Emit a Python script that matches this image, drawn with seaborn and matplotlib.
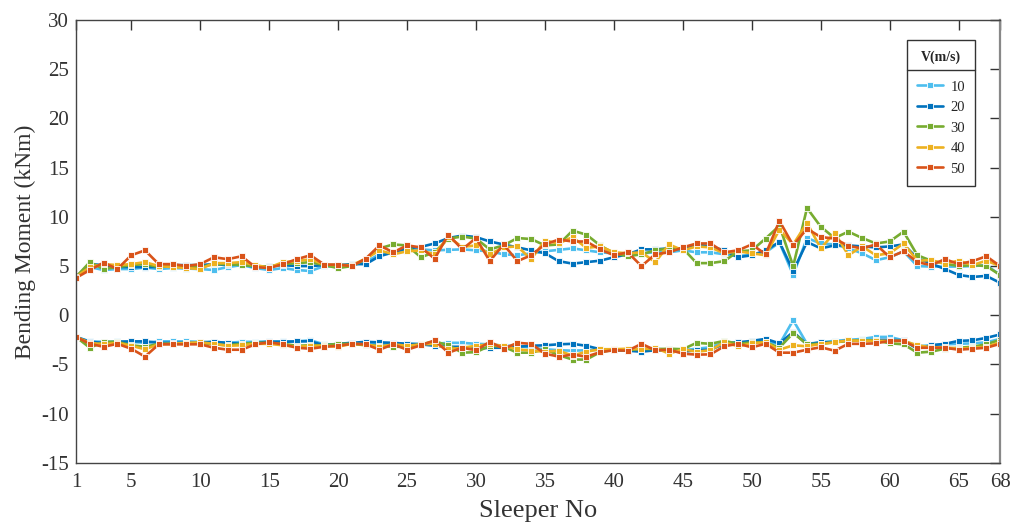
import numpy as np
import pandas as pd
import matplotlib
matplotlib.use("Agg")
import matplotlib.pyplot as plt
import seaborn as sns
from matplotlib.lines import Line2D

# --- Datos ---
sleepers = list(range(1, 69))
speeds = ["10", "20", "30", "40", "50"]
colores = ["#4DBEEE", "#0072BD", "#77AC30", "#EDB120", "#D95319"]

# momento positivo (banda superior)
pos_10 = [3.9, 4.9, 4.6, 4.7, 4.7, 4.85, 4.7, 4.8, 4.75, 4.7, 4.6, 4.9, 5.1, 4.8, 4.6, 4.8, 4.6, 4.5,
          5.0, 4.9, 5.1, 5.4, 6.2, 6.4, 6.6, 6.7, 6.6, 6.65, 6.7, 6.6, 6.5, 6.2, 6.1, 6.3, 6.5,
          6.65, 6.8, 6.6, 6.4, 6.3, 6.3, 6.3, 6.4, 6.4, 6.6, 6.4, 6.4, 6.2, 6.0, 6.2, 6.4, 7.4,
          4.1, 7.85, 7.3, 7.2, 6.8, 6.3, 5.6, 5.9, 6.5, 5.0, 4.95, 4.95, 4.95, 5.0, 5.1, 4.1]
pos_20 = [3.9, 5.2, 5.1, 4.9, 4.9, 4.9, 4.9, 5.1, 5.1, 5.1, 5.2, 5.1, 5.2, 4.9, 5.0, 5.1, 5.0, 5.0,
          5.1, 5.1, 5.2, 5.2, 6.0, 6.4, 6.8, 6.95, 7.3, 7.85, 8.1, 7.95, 7.5, 7.2, 6.9, 6.6, 6.3,
          5.5, 5.25, 5.4, 5.55, 5.9, 6.2, 6.7, 6.7, 6.8, 6.7, 7.2, 7.0, 6.6, 5.9, 6.1, 6.6, 7.45,
          4.5, 7.45, 6.8, 7.1, 7.1, 7.0, 6.9, 7.0, 7.2, 5.8, 5.25, 4.7, 4.1, 3.9, 4.0, 3.3]
pos_30 = [3.9, 5.4, 4.7, 4.9, 5.1, 5.2, 4.9, 5.0, 4.9, 4.9, 5.2, 5.2, 5.1, 5.0, 4.9, 5.2, 5.3, 5.4,
          5.1, 4.8, 5.0, 5.7, 6.8, 7.2, 7.1, 5.9, 6.4, 7.8, 8.0, 7.8, 6.7, 7.1, 7.85, 7.75, 7.1,
          7.2, 8.6, 8.2, 7.1, 6.3, 6.0, 6.2, 6.6, 6.8, 6.8, 5.3, 5.3, 5.5, 6.5, 6.6, 7.8, 9.1,
          5.0, 10.9, 9.0, 7.85, 8.5, 7.85, 7.3, 7.5, 8.5, 6.1, 5.55, 5.25, 5.0, 5.1, 5.0, 4.1]
pos_40 = [3.9, 4.9, 5.2, 5.1, 5.2, 5.4, 5.0, 4.9, 4.8, 4.7, 5.3, 5.3, 5.4, 5.1, 4.85, 5.4, 5.5, 5.7,
          5.15, 5.1, 5.1, 5.75, 6.6, 6.2, 6.5, 6.6, 6.2, 7.95, 6.95, 7.1, 6.2, 6.9, 7.0, 5.7, 7.6,
          7.3, 7.95, 6.85, 7.0, 6.4, 6.3, 6.4, 5.4, 7.2, 6.6, 7.0, 6.9, 6.3, 6.5, 6.3, 6.1, 8.7,
          7.2, 9.4, 6.8, 8.4, 6.1, 7.0, 6.1, 6.3, 7.3, 5.55, 5.6, 5.25, 5.55, 5.1, 5.55, 5.0]
pos_50 = [3.8, 4.6, 5.35, 4.7, 6.1, 6.6, 5.2, 5.2, 5.0, 5.2, 5.9, 5.7, 6.0, 4.9, 4.8, 5.2, 5.7, 6.1,
          5.15, 5.15, 5.0, 5.75, 7.1, 6.4, 7.1, 6.9, 5.75, 8.2, 6.7, 7.85, 5.5, 7.2, 5.5, 6.1, 7.2,
          7.7, 7.5, 7.5, 6.7, 6.1, 6.4, 5.0, 6.2, 6.4, 6.9, 7.3, 7.3, 6.4, 6.6, 7.2, 6.2, 9.6,
          7.1, 8.8, 7.95, 7.8, 7.05, 6.8, 7.2, 5.9, 6.5, 5.4, 5.1, 5.7, 5.2, 5.5, 6.0, 5.0]

# momento negativo (banda inferior)
neg_10 = [-2.2, -2.65, -2.7, -2.65, -2.7, -2.8, -2.65, -2.65, -2.65, -2.7, -2.7, -2.8, -2.7, -2.7, -2.65, -2.65,
          -2.65, -2.55, -2.95, -2.95, -2.8, -2.9, -2.9,
          -2.9, -2.9, -2.9, -2.9, -2.8, -2.8, -2.9, -2.95, -3.1, -3.1, -3.3, -3.45, -3.55, -3.6, -3.55,
          -3.5, -3.55, -3.5, -3.5, -3.4, -3.5, -3.55, -3.4,
          -3.25, -2.75, -2.75, -2.75, -2.6, -2.95, -0.5, -2.9, -2.75, -2.6, -2.5, -2.4, -2.2, -2.2, -2.55,
          -3.15, -3.05, -2.95, -2.9, -2.85, -2.75, -2.4]
neg_20 = [-2.2, -2.7, -2.8, -2.7, -2.65, -2.65, -2.8, -2.8, -2.8, -2.8, -2.7, -2.8, -2.9, -2.8, -2.7, -2.7,
          -2.65, -2.65, -3.05, -2.9, -2.8, -2.7, -2.75,
          -2.8, -2.9, -2.95, -3.1, -3.2, -3.2, -3.4, -3.3, -3.3, -3.2, -3.1, -3.05, -2.95, -2.9, -3.1,
          -3.45, -3.55, -3.6, -3.7, -3.55, -3.6, -3.7, -3.55,
          -3.5, -2.9, -2.75, -2.6, -2.4, -2.85, -1.7, -2.95, -2.75, -2.75, -2.55, -2.6, -2.5, -2.5, -2.55,
          -3.4, -3.05, -2.9, -2.6, -2.55, -2.3, -1.95]
neg_30 = [-2.2, -3.3, -2.7, -2.7, -3.05, -3.2, -2.9, -2.9, -2.9, -2.8, -2.95, -3.05, -2.9, -2.8, -2.8, -2.9,
          -3.1, -3.05, -3.05, -2.9, -2.9, -3.05, -3.1,
          -3.2, -3.2, -2.95, -2.65, -3.05, -3.8, -3.75, -3.1, -3.2, -3.8, -3.8, -3.45, -4.05, -4.5, -4.5,
          -3.75, -3.5, -3.55, -3.4, -3.45, -3.4, -3.45, -2.8,
          -2.9, -2.6, -2.9, -2.75, -2.75, -3.3, -1.8, -2.95, -2.9, -2.75, -2.6, -2.55, -2.55, -2.85, -2.95,
          -3.8, -3.7, -3.4, -3.3, -3.2, -2.95, -2.5]
neg_40 = [-2.2, -2.8, -2.95, -2.8, -3.1, -3.45, -2.95, -2.9, -2.8, -2.75, -2.9, -3.1, -3.05, -2.9, -2.9, -3.05,
          -3.2, -3.1, -3.1, -3.2, -2.9, -2.95, -3.2,
          -2.95, -3.1, -2.95, -2.9, -3.45, -3.3, -3.1, -2.95, -3.1, -3.45, -3.6, -3.7, -3.6, -4.1, -3.7,
          -3.45, -3.45, -3.4, -3.45, -3.3, -3.9, -3.45, -3.7,
          -3.55, -2.75, -3.15, -2.85, -2.75, -3.5, -3.05, -3.15, -2.9, -2.75, -2.55, -2.6, -2.6, -2.6, -2.6,
          -3.05, -3.25, -3.25, -3.4, -3.3, -3.2, -2.75]
neg_50 = [-2.2, -2.9, -3.2, -2.9, -3.4, -4.2, -2.95, -2.95, -2.95, -2.95, -3.3, -3.5, -3.5, -2.95, -2.75, -2.95,
          -3.3, -3.4, -3.2, -3.1, -2.9, -2.95, -3.5,
          -2.95, -3.5, -3.05, -2.55, -3.8, -3.3, -3.55, -2.7, -3.4, -2.8, -2.9, -3.9, -4.2, -4.0, -4.2,
          -3.75, -3.55, -3.6, -2.9, -3.55, -3.5, -3.9, -4.0,
          -3.97, -3.15, -2.9, -3.25, -2.9, -3.8, -3.8, -3.5, -3.25, -3.6, -2.9, -2.9, -2.85, -2.6, -2.6,
          -3.3, -3.3, -3.3, -3.5, -3.4, -3.3, -2.9]

pos_series = [pos_10, pos_20, pos_30, pos_40, pos_50]
neg_series = [neg_10, neg_20, neg_30, neg_40, neg_50]

# --- tabla larga para seaborn ---
filas = []
for v, p, n in zip(speeds, pos_series, neg_series):
    for s, val in zip(sleepers, p):
        filas.append({"sleeper": s, "moment": val, "speed": v, "band": "pos"})
    for s, val in zip(sleepers, n):
        filas.append({"sleeper": s, "moment": val, "speed": v, "band": "neg"})
df = pd.DataFrame(filas)

sns.set_style("white")
plt.rcParams["font.family"] = ["Liberation Serif", "DejaVu Serif"]
plt.rcParams["axes.unicode_minus"] = False

fig = plt.figure(figsize=(10.11, 5.29), dpi=100)
ax = fig.add_axes([0.0752, 0.125, 0.914, 0.837])

sns.lineplot(data=df, x="sleeper", y="moment", hue="speed", units="band", estimator=None,
             palette=colores, hue_order=speeds, marker="s", markersize=4.5, markeredgewidth=0.6,
             linewidth=1.9, sort=False, ax=ax)

ax.set_xlim(1, 68)
ax.set_ylim(-15, 30)
ax.set_xticks([1, 5, 10, 15, 20, 25, 30, 35, 40, 45, 50, 55, 60, 65, 68])
ax.set_yticks(np.arange(-15, 31, 5))
ax.tick_params(direction="in", length=7, width=1, labelsize=15, colors="#333333",
               top=True, right=True)
ax.tick_params(axis="x", pad=7)
ax.tick_params(axis="y", pad=5)
for lado in ["left", "bottom", "top", "right"]:
    ax.spines[lado].set_visible(True)
    ax.spines[lado].set_color("#444444")
    ax.spines[lado].set_linewidth(1.0)
ax.spines["right"].set_color("#888888")
ax.spines["right"].set_linewidth(1.6)

ax.set_xlabel("Sleeper No", fontsize=19, color="#333333", labelpad=6)
ax.set_ylabel("Bending Moment (kNm)", fontsize=17, color="#333333", labelpad=4)

leg = ax.legend(title="V(m/s)", loc="upper right", bbox_to_anchor=(0.973, 0.955),
                fontsize=10.5, title_fontproperties={"weight": "bold", "size": 10},
                frameon=True, fancybox=False, edgecolor="#333333", framealpha=1,
                handlelength=1.8, handletextpad=0.5, borderpad=0.7, labelspacing=0.5,
                borderaxespad=0)
leg.get_frame().set_linewidth(1.0)
leg._legend_box.sep = 12  # más aire entre el título y las entradas

# línea bajo el título de la leyenda
fig.canvas.draw()
r = fig.canvas.get_renderer()
caja = leg.get_window_extent(r)
tit = leg.get_title().get_window_extent(r)
y_lin = tit.y0 - 6
inv = fig.transFigure.inverted()
x0, y0 = inv.transform((caja.x0, y_lin))
x1, _ = inv.transform((caja.x1, y_lin))
fig.add_artist(Line2D([x0, x1], [y0, y0], color="#333333", linewidth=1.0))

fig.savefig("out.png", dpi=100)
